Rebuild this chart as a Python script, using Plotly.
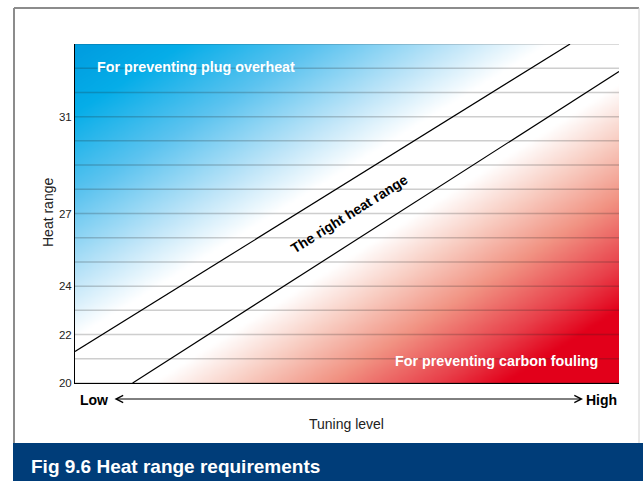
import numpy as np
import plotly.graph_objects as go

# ---------------- data ----------------
heat_ticks = [20, 22, 24, 27, 31]
grid_levels = list(range(20, 35))
upper_line_x = [0.0, 0.91]
upper_line_y = [21.3, 34.0]
lower_line_x = [0.106, 1.0]
lower_line_y = [20.0, 32.86]

# ---------------- layout constants ----------------
W, H = 643, 481
L, R, T, B = 75, 619, 44, 383          # plot area in pixels
YMIN, YMAX = 20, 34
XMIN, XMAX = 0.0, 1.0
FONT = "Liberation Sans, Arial, Helvetica, sans-serif"


def X(px):
    return (px - L) / (R - L)


def Y(py):
    return (B - py) / (B - T)


def to_px(x, y):
    return L + (np.asarray(x) - XMIN) / (XMAX - XMIN) * (R - L), \
        B - (np.asarray(y) - YMIN) / (YMAX - YMIN) * (B - T)


# ---------------- gradient background ----------------
gx = np.linspace(XMIN, XMAX, 161)
gy = np.linspace(YMIN, YMAX, 101)
GX, GY = np.meshgrid(gx, gy)
QX, QY = to_px(GX, GY)


def signed_dist(lx, ly, qx, qy):
    p1x, p1y = to_px(lx[0], ly[0])
    p2x, p2y = to_px(lx[1], ly[1])
    dx, dy = p2x - p1x, p2y - p1y
    ln = np.hypot(dx, dy)
    return (dx * (qy - p1y) - dy * (qx - p1x)) / ln


d_up = -signed_dist(upper_line_x, upper_line_y, QX, QY)
d_low = signed_dist(lower_line_x, lower_line_y, QX, QY)
t_blue = np.clip((d_up - 12) / 240, 0, 1)
t_red = np.clip((d_low - 10) / 190, 0, 1)
Z = t_red - t_blue

colorscale = [
    [0.0, "#009ee0"],
    [0.1, "#05ade8"],
    [0.25, "#5cc3ef"],
    [0.4, "#bfe5f8"],
    [0.5, "#ffffff"],
    [0.62, "#f8cdc2"],
    [0.75, "#f19383"],
    [0.9, "#e8404a"],
    [1.0, "#e2001a"],
]

fig = go.Figure()
fig.add_trace(go.Heatmap(
    x=gx, y=gy, z=Z, zmin=-1, zmax=1, zsmooth="best",
    colorscale=colorscale, showscale=False, hoverinfo="skip"))

# grid lines
gxs, gys = [], []
for g in grid_levels:
    gxs += [XMIN, XMAX, None]
    gys += [g, g, None]
fig.add_trace(go.Scatter(x=gxs, y=gys, mode="lines",
                         line=dict(color="rgba(30,30,30,0.22)", width=1.5),
                         hoverinfo="skip", showlegend=False))

# boundary lines
for lx, ly in [(upper_line_x, upper_line_y), (lower_line_x, lower_line_y)]:
    fig.add_trace(go.Scatter(x=lx, y=ly, mode="lines",
                             line=dict(color="black", width=1.2),
                             hoverinfo="skip", showlegend=False))

shapes = [
    # outer frame
    dict(type="line", xref="paper", yref="paper", x0=X(14), x1=X(14), y0=Y(8), y1=Y(443),
         line=dict(color="#8c8c8c", width=2)),
    dict(type="line", xref="paper", yref="paper", x0=X(14), x1=X(639), y0=Y(8), y1=Y(8),
         line=dict(color="#8c8c8c", width=2)),
    dict(type="line", xref="paper", yref="paper", x0=X(639), x1=X(639), y0=Y(8), y1=Y(443),
         line=dict(color="#d0d0d0", width=1)),
    # caption bar
    dict(type="rect", xref="paper", yref="paper", x0=X(13), x1=X(643), y0=Y(443), y1=Y(481),
         fillcolor="#003d79", line=dict(width=0)),
]

annotations = [
    dict(text="Heat range", x=X(38), y=Y(213), textangle=-90,
         font=dict(size=14, color="#222")),
    dict(text="<b>For preventing plug overheat</b>", x=X(95), y=Y(67), xanchor="left",
         font=dict(size=14.3, color="white")),
    dict(text="<b>For preventing carbon fouling</b>", x=X(600), y=Y(361), xanchor="right",
         font=dict(size=14.3, color="white")),
    dict(text="<b>The right heat range</b>", x=X(349), y=Y(214), textangle=-32,
         font=dict(size=14, color="black")),
    dict(text="<b>Low</b>", x=X(110), y=Y(400), xanchor="right",
         font=dict(size=14, color="black")),
    dict(text="<b>High</b>", x=X(584), y=Y(400), xanchor="left",
         font=dict(size=14, color="black")),
    dict(text="Tuning level", x=X(346), y=Y(424),
         font=dict(size=14, color="#222")),
    dict(text="<b>Fig 9.6 Heat range requirements</b>", x=X(29), y=Y(466), xanchor="left",
         font=dict(size=19, color="white")),
    dict(text="", x=X(583), y=Y(399), ax=-(583 - 113), ay=0, axref="pixel", ayref="pixel",
         showarrow=True, arrowhead=5, startarrowhead=5, arrowside="end+start",
         arrowwidth=1, arrowsize=1.4, startarrowsize=1.4, arrowcolor="black"),
]
for a in annotations:
    a.setdefault("xref", "paper")
    a.setdefault("yref", "paper")
    a.setdefault("showarrow", False)
    a.setdefault("yanchor", "middle")

fig.update_layout(
    width=W, height=H,
    margin=dict(l=L, r=W - R, t=T, b=H - B, pad=0),
    paper_bgcolor="white", plot_bgcolor="white",
    font=dict(family=FONT, color="#222"),
    showlegend=False,
    shapes=shapes, annotations=annotations,
    xaxis=dict(range=[XMIN, XMAX], showgrid=False, zeroline=False, showticklabels=False,
               ticks="", showline=True, linecolor="black", linewidth=1, layer="above traces",
               fixedrange=True),
    yaxis=dict(range=[YMIN, YMAX], showgrid=False, zeroline=False, tickvals=heat_ticks,
               ticktext=[str(v) for v in heat_ticks], ticks="", tickfont=dict(size=11.5, color="#222"),
               showline=True, linecolor="black", linewidth=1, layer="above traces",
               fixedrange=True),
)

fig.write_html("out.html",
               config={"displayModeBar": False, "staticPlot": True},
               post_script="document.body.style.margin='0';document.body.style.overflow='hidden';")
